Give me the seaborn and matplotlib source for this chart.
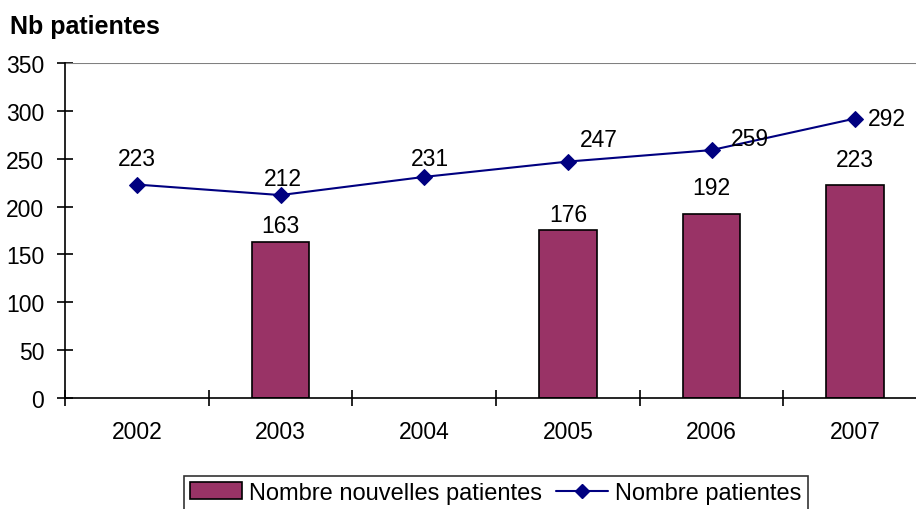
import matplotlib
matplotlib.use("Agg")
import matplotlib.pyplot as plt
import numpy as np
import pandas as pd
import seaborn as sns
from matplotlib.lines import Line2D
from matplotlib.patches import Patch

years = ["2002", "2003", "2004", "2005", "2006", "2007"]
nouvelles = [np.nan, 163, np.nan, 176, 192, 223]
patientes = [223, 212, 231, 247, 259, 292]

# label offsets (in points)
line_lab_dx = [0, 2, 4, 22, 28, 23]
line_lab_dy = [19, 12, 13, 16, 8.5, 0]
bar_lab_dy = [0, 12, 0, 10.5, 19, 18]

sns.set_theme(style="white")
plt.rcParams["font.family"] = ["Liberation Sans", "DejaVu Sans"]
plt.rcParams["text.color"] = "black"
plt.rcParams["xtick.color"] = "black"
plt.rcParams["ytick.color"] = "black"

bar_color = "#993366"
line_color = "#000080"
fs = 16.5

df = pd.DataFrame({"year": years, "nouvelles": nouvelles, "patientes": patientes})

fig = plt.figure(figsize=(9.16, 5.1), dpi=100)
ax = fig.add_axes([65 / 916, 111 / 510, 862 / 916, 335 / 510])

sns.barplot(data=df, x="year", y="nouvelles", order=years, color=bar_color,
            saturation=1, width=0.4, edgecolor="black", linewidth=1.2,
            errorbar=None, ax=ax)
xpos = np.arange(len(years))
sns.lineplot(x=xpos, y=patientes, color=line_color, marker="D", markersize=8,
             markeredgecolor=line_color, linewidth=1.5, ax=ax)

for i, v in enumerate(patientes):
    ax.annotate(str(v), (xpos[i], v), xytext=(line_lab_dx[i], line_lab_dy[i]),
                textcoords="offset points", ha="center", va="center",
                fontsize=fs, color="black")
for i, v in enumerate(nouvelles):
    if not np.isnan(v):
        ax.annotate(str(int(v)), (xpos[i], v), xytext=(0, bar_lab_dy[i]),
                    textcoords="offset points", ha="center", va="center",
                    fontsize=fs, color="black")

ax.set_xlim(-0.5, len(years) - 0.5)
ax.set_ylim(0, 350)
ax.set_yticks(range(0, 351, 50))
ax.set_xlabel("")
ax.set_ylabel("")
ax.axhline(350, color="#808080", linewidth=1.5)

for s in ["top", "right"]:
    ax.spines[s].set_visible(False)
for s in ["left", "bottom"]:
    ax.spines[s].set_color("black")
    ax.spines[s].set_linewidth(1.2)

ax.set_xticks(xpos)
ax.set_xticklabels(years)
ax.set_xticks(np.arange(-0.5, len(years), 1), minor=True)
ax.tick_params(axis="x", which="major", length=0, pad=16, labelsize=fs)
ax.tick_params(axis="x", which="minor", direction="inout", length=12,
               width=1.2, color="black", bottom=True)
ax.tick_params(axis="y", direction="inout", length=12, width=1.2,
               color="black", left=True, pad=9, labelsize=fs)

fig.text(10 / 916, 1 - 27 / 510, "Nb patientes", fontsize=18,
         fontweight="bold", ha="left", va="center")

handles = [
    Patch(facecolor=bar_color, edgecolor="black", linewidth=1.2,
          label="Nombre nouvelles patientes"),
    Line2D([0], [0], color=line_color, marker="D", markersize=7,
           linewidth=1.5, label="Nombre patientes"),
]
leg = fig.legend(handles=handles, loc="upper center",
                 bbox_to_anchor=(496 / 916, 1 - 477 / 510), ncol=2,
                 fontsize=17, frameon=True, fancybox=False,
                 edgecolor="black", handlelength=2.2, handletextpad=0.3,
                 columnspacing=0.6, borderpad=0.25, handleheight=0.7,
                 borderaxespad=0)
leg.get_frame().set_linewidth(1.2)

fig.savefig("out.png", dpi=100)
